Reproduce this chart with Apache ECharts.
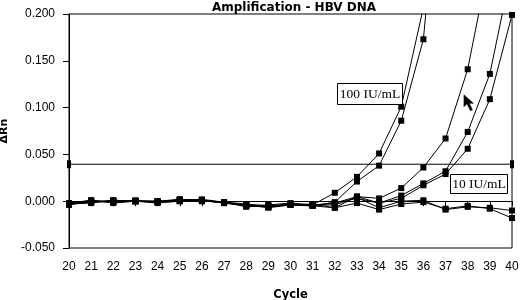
<!DOCTYPE html>
<html>
<head>
<meta charset="utf-8">
<script src="https://cdn.jsdelivr.net/npm/echarts@6/dist/echarts.min.js"></script>
<style>
html,body{margin:0;padding:0;background:#fff;}
#chart{width:520px;height:300px;}
</style>
</head>
<body>
<div id="chart"></div>
<script>
// ---- data ----
var cycles = [20,21,22,23,24,25,26,27,28,29,30,31,32,33,34,35,36,37,38,39,40];
var xTicks = ["20","21","22","23","24","25","26","27","28","29","30","31","32","33","34","35","36","37","38","39","40"];
var yTicks = ["-0.050","0.000","0.050","0.100","0.150","0.200"];

// 100 IU/mL replicates (values above 0.200 run off the chart)
var s100a = [-0.003,0.001,-0.001,0.000,-0.001,0.002,0.001,-0.001,-0.003,-0.005,-0.003,-0.004,0.009,0.026,0.051,0.101,0.207];
var s100b = [-0.002,-0.001,0.001,0.000,0.000,0.000,0.001,-0.002,-0.004,-0.006,-0.004,-0.005,-0.001,0.021,0.038,0.086,0.173,0.430];
// 10 IU/mL replicates
var s10a  = [-0.003,0.000,0.000,0.001,-0.001,0.001,0.002,-0.001,-0.005,-0.004,-0.002,-0.004,-0.002,0.005,0.003,0.014,0.036,0.067,0.141,0.260];
var s10b  = [-0.002,0.001,-0.002,0.000,0.000,0.002,0.001,-0.002,-0.004,-0.006,-0.003,-0.005,-0.002,0.003,-0.002,0.006,0.019,0.032,0.074,0.136,0.250];
var s10c  = [-0.003,-0.001,0.000,0.000,-0.002,0.000,0.000,-0.001,-0.006,-0.005,-0.004,-0.003,-0.007,0.005,-0.002,0.003,0.017,0.029,0.056,0.109,0.199];
// negatives
var negA  = [-0.004,0.000,-0.001,0.000,-0.001,0.001,0.001,-0.002,-0.005,-0.006,-0.003,-0.004,-0.004,0.004,-0.007,0.000,0.001,-0.009,-0.006,-0.007,-0.010];
var negB  = [-0.003,-0.002,0.001,0.000,0.000,0.001,0.000,-0.001,-0.004,-0.007,-0.004,-0.005,-0.007,-0.002,-0.009,-0.003,-0.001,-0.008,-0.005,-0.008,-0.018];
// threshold
var thresholdValue = 0.0395;
var thresholdCycles = [20, 40];

var labels100 = "100 IU/mL";
var labels10 = "10 IU/mL";

// ---- build ----
function pairs(vals){
  var out = [];
  for (var i = 0; i < vals.length; i++) out.push([cycles[i], vals[i]]);
  return out;
}
var allSeries = [s100a, s100b, s10a, s10b, s10c, negA, negB];

var chart = echarts.init(document.getElementById('chart'), null, {renderer:'canvas'});
var series = allSeries.map(function(v){
  return {
    type:'line', data:pairs(v), symbol:'rect', symbolSize:6, clip:true,
    itemStyle:{color:'#000'}, lineStyle:{color:'#000', width:1}, animation:false, silent:true
  };
});
series.push({
  type:'line', data:thresholdCycles.map(function(c){return [c, thresholdValue];}),
  symbol:'rect', symbolSize:[4,8], clip:false,
  itemStyle:{color:'#000'}, lineStyle:{color:'#000', width:1}, animation:false, silent:true
});

var baseFont = 'Liberation Sans, Arial, sans-serif';
chart.setOption({
  animation:false,
  title:{
    text:'Amplification - HBV DNA', left:289, top:-3, textAlign:'center',
    textStyle:{fontFamily:'DejaVu Sans, sans-serif', fontWeight:'bold', fontSize:12, color:'#000'}
  },
  grid:{left:69, right:8, top:14, bottom:52, show:true, borderColor:'#000', borderWidth:1,
        backgroundColor:'transparent', containLabel:false, outerBoundsMode:'none'},
  xAxis:{
    type:'value', min:20, max:40, interval:1,
    name:'Cycle', nameLocation:'middle', nameGap:41,
    nameTextStyle:{fontFamily:'DejaVu Sans, sans-serif', fontWeight:'bold', fontSize:11.5, color:'#000'},
    axisLine:{lineStyle:{color:'#000', width:1}},
    axisTick:{show:true, length:5, lineStyle:{color:'#000'}},
    axisLabel:{fontFamily:baseFont, fontSize:12, color:'#000', margin:13,
      formatter:function(v){ var i = cycles.indexOf(Math.round(v)); return i>=0 ? xTicks[i] : ''; }},
    splitLine:{show:false}
  },
  yAxis:{
    type:'value', min:-0.05, max:0.2, interval:0.05,
    name:'ΔRn', nameLocation:'middle', nameGap:54,
    nameTextStyle:{fontFamily:'DejaVu Sans, sans-serif', fontWeight:'bold', fontSize:11, color:'#000'},
    axisLine:{show:true, lineStyle:{color:'#000', width:1}},
    axisTick:{show:true, length:6, lineStyle:{color:'#000'}},
    axisLabel:{fontFamily:baseFont, fontSize:12, color:'#000', margin:14,
      formatter:function(v){ var i = Math.round((v + 0.05) / 0.05); return yTicks[i] !== undefined ? yTicks[i] : ''; }},
    splitLine:{show:false}
  },
  series: series
});

// annotations anchored in data coordinates
var note100 = {cycle:32.1, value:0.1264};
var note10 = {cycle:37.2, value:0.029};
var cursorTip = {cycle:37.83, value:0.1136};
var p100 = chart.convertToPixel({gridIndex:0}, [note100.cycle, note100.value]);
var p10 = chart.convertToPixel({gridIndex:0}, [note10.cycle, note10.value]);
var pc = chart.convertToPixel({gridIndex:0}, [cursorTip.cycle, cursorTip.value]);

function box(p, w, h, txt){
  return [
    {type:'rect', shape:{x:Math.round(p[0])+0.5, y:Math.round(p[1])+0.5, width:w, height:h},
     style:{fill:'#fff', stroke:'#000', lineWidth:1}, z:100},
    {type:'text', x:Math.round(p[0]) + w/2 + 0.5, y:Math.round(p[1]) + h/2 + 1,
     style:{text:txt, fill:'#000', font:'13.5px "Liberation Serif", "Times New Roman", serif', align:'center', verticalAlign:'middle'}, z:101}
  ];
}
var g = [].concat(box(p100, 65, 21, labels100), box(p10, 57, 19, labels10));
var tx = pc[0], ty = pc[1];
g.push({type:'polygon', shape:{points:[[tx,ty],[tx,ty+12],[tx+3,ty+9],[tx+6.5,ty+16],[tx+8.5,ty+15],[tx+5.5,ty+8.5],[tx+9.5,ty+8.5]]},
  style:{fill:'#000', stroke:'#000', lineWidth:0.5}, z:102});
chart.setOption({graphic:g});
</script>
</body>
</html>
